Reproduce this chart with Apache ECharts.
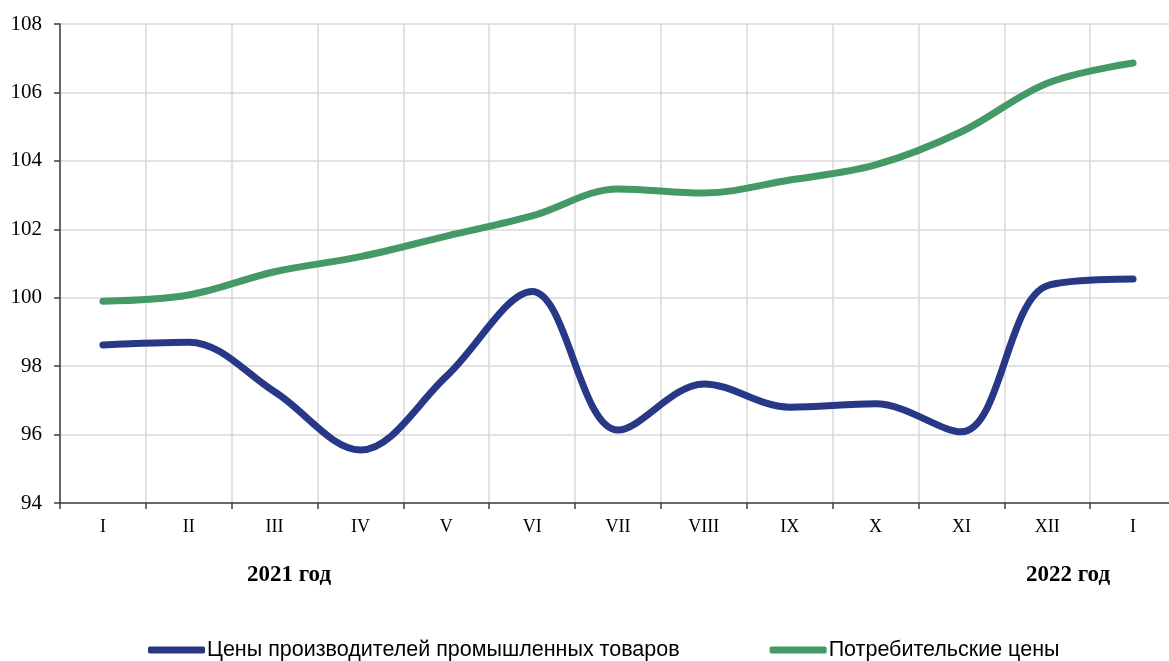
<!DOCTYPE html>
<html>
<head>
<meta charset="utf-8">
<script src="https://cdn.jsdelivr.net/npm/echarts@6/dist/echarts.min.js"></script>
<style>
  html, body { margin: 0; padding: 0; background: #fff; overflow: hidden; }
  #chart { width: 1169px; height: 661px; }
</style>
</head>
<body>
<div id="chart"></div>
<script>
// месяцы: январь 2021 ... январь 2022
const months = ['I', 'II', 'III', 'IV', 'V', 'VI', 'VII', 'VIII', 'IX', 'X', 'XI', 'XII', 'I'];
const producerPrices = [98.62, 98.7, 97.25, 95.55, 97.7, 100.18, 96.13, 97.48, 96.8, 96.9, 96.08, 100.35, 100.55];
const consumerPrices = [99.9, 100.08, 100.76, 101.2, 101.8, 102.39, 103.18, 103.06, 103.44, 103.88, 104.85, 106.27, 106.86];
const seriesNames = ['Цены производителей промышленных товаров', 'Потребительские цены'];
const yearLabels = ['2021 год', '2022 год'];

const blue = '#283886';
const green = '#449966';

const chart = echarts.init(document.getElementById('chart'));

const option = {
  animation: false,
  // сетка шире окна: последний столбец обрезан справа, как в оригинале
  grid: { left: 60, top: 24, width: 1116, height: 479, outerBoundsMode: 'none' },
  legend: {
    left: 143,
    top: 634,
    icon: 'roundRect',
    itemWidth: 57,
    itemHeight: 7,
    itemGap: 90,
    textStyle: { fontFamily: 'Liberation Sans', fontSize: 21.5, color: '#000', padding: [0, 0, 0, -3] },
    data: seriesNames
  },
  xAxis: {
    type: 'category',
    data: months,
    boundaryGap: true,
    axisLine: { lineStyle: { color: '#404040', width: 1.5 } },
    axisTick: { show: true, length: 6, lineStyle: { color: '#404040', width: 1.5 } },
    axisLabel: { fontFamily: 'Liberation Serif', fontSize: 18, color: '#000', margin: 15 },
    splitLine: { show: true, lineStyle: { color: '#d9d9d9', width: 1.5 } }
  },
  yAxis: {
    type: 'value',
    min: 94,
    max: 108,
    interval: 2,
    axisLine: { show: true, lineStyle: { color: '#404040', width: 1.5 } },
    axisTick: { show: true, length: 6, lineStyle: { color: '#404040', width: 1.5 } },
    axisLabel: { fontFamily: 'Liberation Serif', fontSize: 21, color: '#000', margin: 18 },
    splitLine: { show: true, lineStyle: { color: '#d9d9d9', width: 1.5 } }
  },
  graphic: [
    { type: 'text', left: 247, top: 564, style: { text: yearLabels[0], font: 'bold 23px "Liberation Serif"', fill: '#000' } },
    { type: 'text', left: 1026, top: 564, style: { text: yearLabels[1], font: 'bold 23px "Liberation Serif"', fill: '#000' } }
  ],
  series: [
    {
      name: seriesNames[0],
      type: 'line',
      data: producerPrices,
      smooth: 0.35,
      symbol: 'none',
      itemStyle: { color: blue },
      lineStyle: { color: blue, width: 7, cap: 'round' }
    },
    {
      name: seriesNames[1],
      type: 'line',
      data: consumerPrices,
      smooth: 0.35,
      symbol: 'none',
      itemStyle: { color: green },
      lineStyle: { color: green, width: 7, cap: 'round' }
    }
  ]
};

chart.setOption(option);
</script>
</body>
</html>
